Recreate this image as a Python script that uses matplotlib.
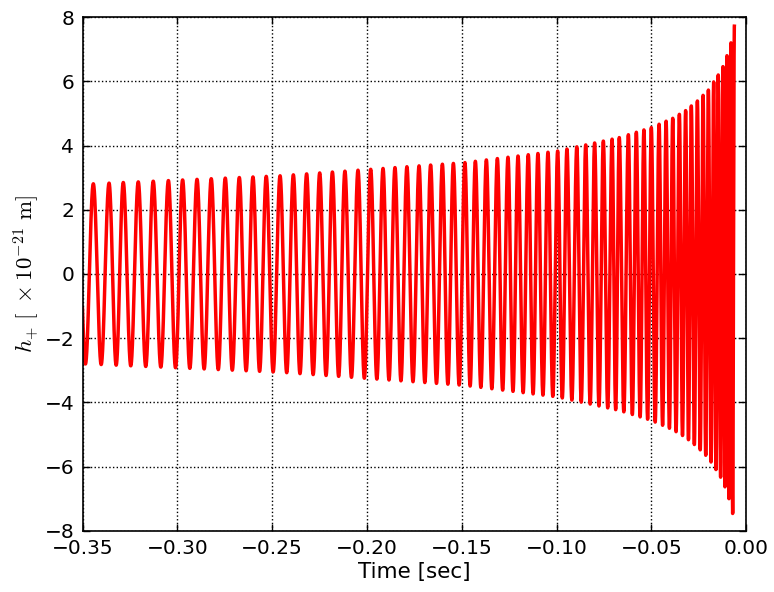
from __future__ import annotations

import matplotlib

matplotlib.use("Agg")
import matplotlib.pyplot as plt
import numpy as np

# Times (s) of the waveform crests left to right
peak_times = [
    -0.3443, -0.3360, -0.3285, -0.3206, -0.3127, -0.3047, -0.2972, -0.2896,
    -0.2821, -0.2747, -0.2673, -0.2601, -0.2531, -0.2458, -0.2388, -0.2318,
    -0.2249, -0.2182, -0.2116, -0.2047, -0.1980, -0.1915, -0.1852, -0.1789,
    -0.1725, -0.1664, -0.1602, -0.1544, -0.1483, -0.1428, -0.1370, -0.1312,
    -0.1256, -0.1203, -0.1149, -0.1098, -0.1045, -0.0994, -0.0945, -0.0893,
    -0.0846, -0.0799, -0.0753, -0.0707, -0.0669, -0.0621, -0.0579, -0.0539,
    -0.0500, -0.0459, -0.0422, -0.0387, -0.0352, -0.0319, -0.0289, -0.0257,
    -0.0227, -0.0199, -0.0171, -0.0147, -0.0122, -0.0101, -0.0080, -0.0062,
]

# Crest height (x1e-21 m) at selected times
amp_times = [
    -0.3500, -0.3443, -0.2458, -0.1483, -0.0994, -0.0669, -0.0500, -0.0387,
    -0.0319, -0.0257, -0.0199, -0.0147, -0.0122, -0.0101, -0.0080, -0.0062,
]
amp_values = [
    2.80, 2.81, 3.06, 3.47, 3.83, 4.25, 4.56, 4.85,
    5.09, 5.39, 5.73, 6.20, 6.46, 6.80, 7.20, 7.72,
]

x_ticks = [-0.35, -0.30, -0.25, -0.20, -0.15, -0.10, -0.05, 0.00]
y_ticks = [-8, -6, -4, -2, 0, 2, 4, 6, 8]


def build_strain(t_start: float = -0.35, n: int = 30000):
    peaks = np.asarray(peak_times)
    t = np.linspace(t_start, peaks[-1], n)
    cycles = np.arange(len(peaks), dtype=float)
    phase = np.interp(t, peaks, cycles)
    # before the first crest keep the first cycle's period
    first_period = peaks[1] - peaks[0]
    early = t < peaks[0]
    phase[early] = (t[early] - peaks[0]) / first_period
    amp = np.interp(t, amp_times, amp_values)
    return t, amp * np.cos(2 * np.pi * phase)


def main() -> None:
    plt.rcParams["mathtext.fontset"] = "cm"
    plt.rcParams["xtick.direction"] = "in"
    plt.rcParams["ytick.direction"] = "in"

    t, h = build_strain()

    fig = plt.figure(figsize=(7.74, 5.92), dpi=100)
    ax = fig.add_axes([82.5 / 774, 1 - 530.8 / 592, 663.6 / 774, 513.6 / 592])
    ax.plot(t, h, color="red", linewidth=2.5)

    ax.set_xlim(-0.35, 0.0)
    ax.set_ylim(-8, 8)
    ax.set_xticks(x_ticks)
    ax.set_yticks(y_ticks)
    ax.tick_params(top=True, right=True, labelsize=14.5, length=5, width=1, pad=6)
    ax.grid(True, color="black", linestyle=":", linewidth=1)
    for spine in ax.spines.values():
        spine.set_linewidth(1.2)

    ax.set_xlabel("Time [sec]", fontsize=15.5, labelpad=3)
    ax.set_ylabel(r"$h_{+}\ [\ \times 10^{-21}\ \mathrm{m}]$", fontsize=16.5, labelpad=2)

    fig.savefig("out.png", dpi=100)
    plt.close(fig)


if __name__ == "__main__":
    main()
